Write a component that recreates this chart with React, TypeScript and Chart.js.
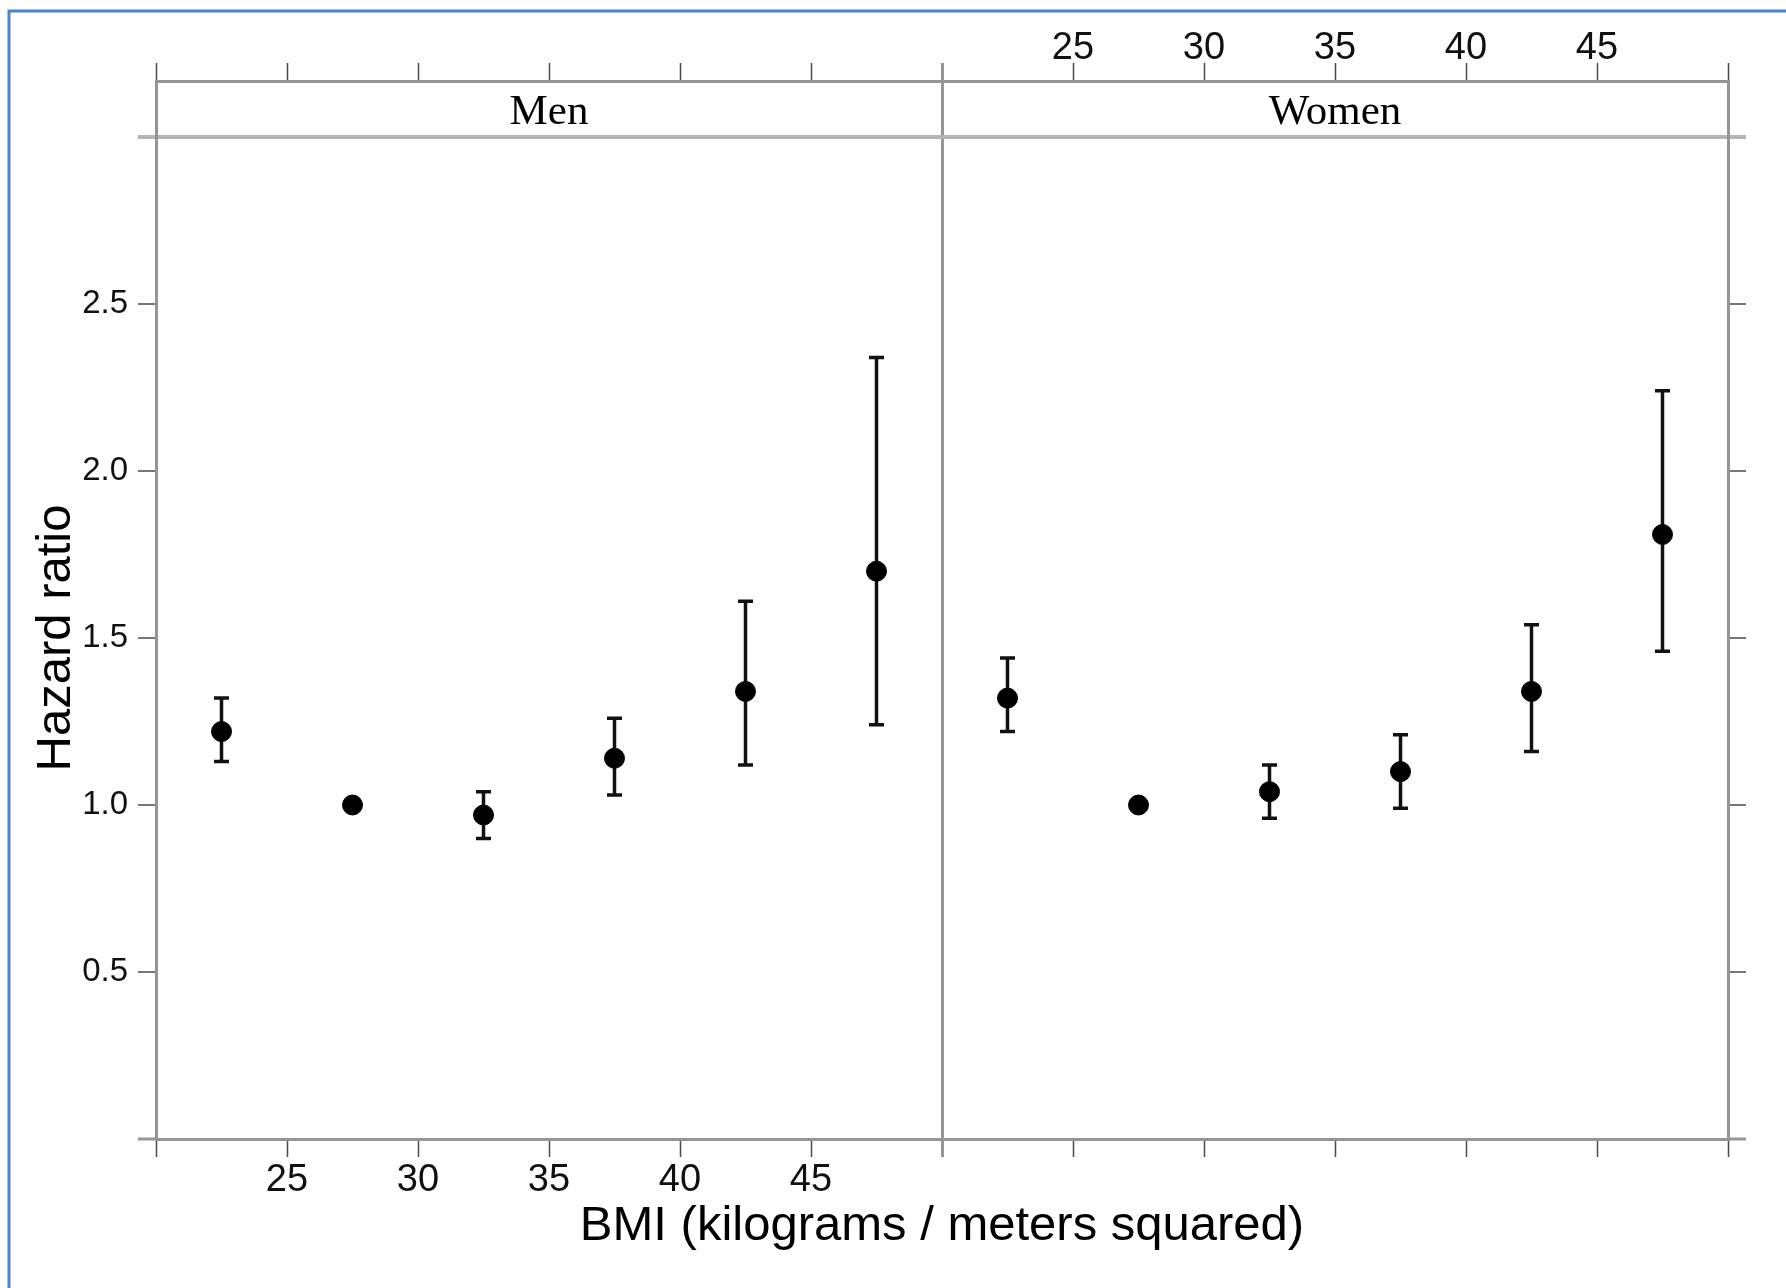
import React, { useEffect, useRef } from "react";
import { Chart, registerables } from "chart.js";

Chart.register(...registerables);

// ---- data ----
const bmiCategoryMidpoints = [22.5, 27.5, 32.5, 37.5, 42.5, 47.5];
const panelNames = ["Men", "Women"];
const menHazard = [1.22, 1.0, 0.97, 1.14, 1.34, 1.7];
const menLower = [1.13, 1.0, 0.9, 1.03, 1.12, 1.24];
const menUpper = [1.32, 1.0, 1.04, 1.26, 1.61, 2.34];
const womenHazard = [1.32, 1.0, 1.04, 1.1, 1.34, 1.81];
const womenLower = [1.22, 1.0, 0.96, 0.99, 1.16, 1.46];
const womenUpper = [1.44, 1.0, 1.12, 1.21, 1.54, 2.24];
const bmiTicks = [20, 25, 30, 35, 40, 45, 50];
const bmiTickLabels = ["", "25", "30", "35", "40", "45", ""];
const hazardTicks = [0, 0.5, 1.0, 1.5, 2.0, 2.5, 3.0];
const hazardTickLabels = ["", "0.5", "1.0", "1.5", "2.0", "2.5", ""];
const xTitle = "BMI (kilograms / meters squared)";
const yTitle = "Hazard ratio";

// ---- layout / style ----
const W = 1786;
const H = 1288;
const AREA_LEFT = 156;
const AREA_RIGHT = 1728;
const AREA_TOP = 81;
const AREA_BOTTOM = 1139;
const STRIP_PX = 56;

const BMI_MIN = bmiTicks[0];
const BMI_MAX = bmiTicks[bmiTicks.length - 1];
const SPAN = BMI_MAX - BMI_MIN;
const HR_MIN = hazardTicks[0];
const HR_PANEL_MAX = hazardTicks[hazardTicks.length - 1];
const HR_MAX =
  HR_PANEL_MAX +
  (STRIP_PX / (AREA_BOTTOM - AREA_TOP - STRIP_PX)) * (HR_PANEL_MAX - HR_MIN);

const AXIS_GRAY = "#959595";
const STRIP_GRAY = "#b4b4b4";
const TICK_COLOR = "#4a4a4a";
const NONE = "rgba(0,0,0,0)";
const SANS = "'Liberation Sans', Arial, sans-serif";
const SERIF = "'Liberation Serif', 'Times New Roman', serif";

const xTickValues = Array.from(
  new Set([...bmiTicks, ...bmiTicks.map((v) => v + SPAN)])
).sort((a, b) => a - b);
const bottomLabels = new Map<number, string>();
const topLabels = new Map<number, string>();
bmiTicks.forEach((v, i) => {
  bottomLabels.set(v, bmiTickLabels[i]);
});
bmiTicks.forEach((v, i) => {
  if (!topLabels.has(v)) topLabels.set(v, "");
  topLabels.set(v + SPAN, bmiTickLabels[i]);
  if (!bottomLabels.has(v + SPAN)) bottomLabels.set(v + SPAN, "");
});
const yLabelMap = new Map<number, string>();
hazardTicks.forEach((v, i) => yLabelMap.set(v, hazardTickLabels[i]));

function makePoints(panel: number, hr: number[], lo: number[], hi: number[]) {
  return bmiCategoryMidpoints.map((m, i) => ({
    x: m + panel * SPAN,
    y: hr[i],
    lo: lo[i],
    hi: hi[i],
  }));
}

const errorBarPlugin = {
  id: "errorBars",
  beforeDatasetsDraw(chart: any) {
    const ctx = chart.ctx;
    const yScale = chart.scales.y;
    ctx.save();
    ctx.strokeStyle = "#111";
    ctx.lineWidth = 3.5;
    chart.data.datasets.forEach((ds: any, di: number) => {
      const meta = chart.getDatasetMeta(di);
      meta.data.forEach((el: any, i: number) => {
        const raw = ds.data[i];
        if (raw.hi === raw.lo) return;
        const x = el.x;
        const yl = yScale.getPixelForValue(raw.lo);
        const yh = yScale.getPixelForValue(raw.hi);
        ctx.beginPath();
        ctx.moveTo(x, yl);
        ctx.lineTo(x, yh);
        ctx.moveTo(x - 7.5, yl);
        ctx.lineTo(x + 7.5, yl);
        ctx.moveTo(x - 7.5, yh);
        ctx.lineTo(x + 7.5, yh);
        ctx.stroke();
      });
    });
    ctx.restore();
  },
};

const decorPlugin = {
  id: "decor",
  beforeDraw(chart: any) {
    const ctx = chart.ctx;
    ctx.save();
    ctx.fillStyle = "#ffffff";
    ctx.fillRect(0, 0, chart.width, chart.height);
    ctx.strokeStyle = "#4f82c8";
    ctx.lineWidth = 3;
    ctx.beginPath();
    ctx.moveTo(9, chart.height);
    ctx.lineTo(9, 11);
    ctx.lineTo(chart.width, 11);
    ctx.stroke();
    ctx.restore();
  },
  afterDraw(chart: any) {
    const ctx = chart.ctx;
    const xs = chart.scales.x;
    const ys = chart.scales.y;
    ctx.save();
    // strip labels
    ctx.fillStyle = "#000";
    ctx.font = `43px ${SERIF}`;
    ctx.textAlign = "center";
    ctx.textBaseline = "middle";
    const stripY = ys.getPixelForValue((HR_PANEL_MAX + HR_MAX) / 2) + 4;
    panelNames.forEach((name, p) => {
      const cx = xs.getPixelForValue((BMI_MIN + BMI_MAX) / 2 + p * SPAN);
      ctx.fillText(name, cx, stripY);
    });
    // y title, centred on the panel region (excluding the strip)
    const cy = (ys.getPixelForValue(HR_MIN) + ys.getPixelForValue(HR_PANEL_MAX)) / 2;
    ctx.translate(56, cy);
    ctx.rotate(-Math.PI / 2);
    ctx.font = `49px ${SANS}`;
    ctx.fillText(yTitle, 0, 0);
    ctx.restore();
  },
};

const tickLen = 18;

function xAxis(position: "top" | "bottom") {
  const labels = position === "bottom" ? bottomLabels : topLabels;
  return {
    type: "linear",
    position,
    min: BMI_MIN,
    max: BMI_MAX + SPAN,
    afterBuildTicks: (s: any) => {
      s.ticks = xTickValues.map((v) => ({ value: v }));
    },
    afterFit: (s: any) => {
      s.height = position === "bottom" ? H - AREA_BOTTOM : AREA_TOP;
    },
    grid: {
      drawOnChartArea: position === "bottom",
      color: (c: any) => (c.tick && c.tick.value === BMI_MAX ? AXIS_GRAY : NONE),
      lineWidth: 3,
      tickLength: tickLen,
      tickColor: (c: any) => (c.tick && c.tick.value === BMI_MAX ? AXIS_GRAY : TICK_COLOR),
      tickWidth: (c: any) => (c.tick && c.tick.value === BMI_MAX ? 3 : 1.5),
    },
    border: { display: true, color: AXIS_GRAY, width: 3 },
    ticks: {
      autoSkip: false,
      maxRotation: 0,
      padding: position === "bottom" ? 1 : -8,
      color: "#111",
      font: { family: SANS, size: 38 },
      callback: (v: any) => labels.get(v) ?? "",
    },
    title:
      position === "bottom"
        ? {
            display: true,
            text: xTitle,
            color: "#000",
            font: { family: SANS, size: 49 },
            padding: { top: 0, bottom: 32 },
          }
        : { display: false },
  };
}

function yAxis(position: "left" | "right") {
  return {
    type: "linear",
    position,
    min: HR_MIN,
    max: HR_MAX,
    afterBuildTicks: (s: any) => {
      s.ticks = hazardTicks.map((v) => ({ value: v }));
    },
    afterFit: (s: any) => {
      s.width = position === "left" ? AREA_LEFT : W - AREA_RIGHT;
    },
    grid: {
      drawOnChartArea: position === "left",
      color: (c: any) => (c.tick && c.tick.value === HR_PANEL_MAX ? STRIP_GRAY : NONE),
      lineWidth: 4,
      tickLength: tickLen,
      tickColor: (c: any) => {
        const v = c.tick && c.tick.value;
        if (v === HR_PANEL_MAX) return STRIP_GRAY;
        if (v === HR_MIN) return AXIS_GRAY;
        return TICK_COLOR;
      },
      tickWidth: (c: any) => {
        const v = c.tick && c.tick.value;
        if (v === HR_PANEL_MAX) return 4;
        if (v === HR_MIN) return 3;
        return 1.5;
      },
    },
    border: { display: true, color: AXIS_GRAY, width: 3 },
    ticks: {
      autoSkip: false,
      padding: 10,
      color: "#111",
      font: { family: SANS, size: 33 },
      callback: (v: any) => (position === "left" ? yLabelMap.get(v) ?? "" : ""),
    },
  };
}

export default function App() {
  const ref = useRef<HTMLCanvasElement | null>(null);
  useEffect(() => {
    if (!ref.current) return;
    const chart = new Chart(ref.current, {
      type: "scatter",
      data: {
        datasets: [
          {
            label: panelNames[0],
            data: makePoints(0, menHazard, menLower, menUpper),
            backgroundColor: "#000",
            borderColor: "#000",
            pointRadius: 10,
            pointHoverRadius: 10,
          },
          {
            label: panelNames[1],
            data: makePoints(1, womenHazard, womenLower, womenUpper),
            backgroundColor: "#000",
            borderColor: "#000",
            pointRadius: 10,
            pointHoverRadius: 10,
          },
        ],
      },
      options: {
        responsive: false,
        animation: false,
        devicePixelRatio: 1,
        layout: { padding: 0 },
        plugins: {
          legend: { display: false },
          tooltip: { enabled: false },
          title: { display: false },
        },
        scales: {
          x: xAxis("bottom"),
          xTop: xAxis("top"),
          y: yAxis("left"),
          yR: yAxis("right"),
        } as any,
      },
      plugins: [decorPlugin, errorBarPlugin],
    } as any);
    return () => chart.destroy();
  }, []);
  return (
    <div style={{ position: "fixed", left: 0, top: 0, width: W, height: H, background: "#fff" }}>
      <canvas ref={ref} width={W} height={H} style={{ width: W, height: H, display: "block" }} />
    </div>
  );
}
